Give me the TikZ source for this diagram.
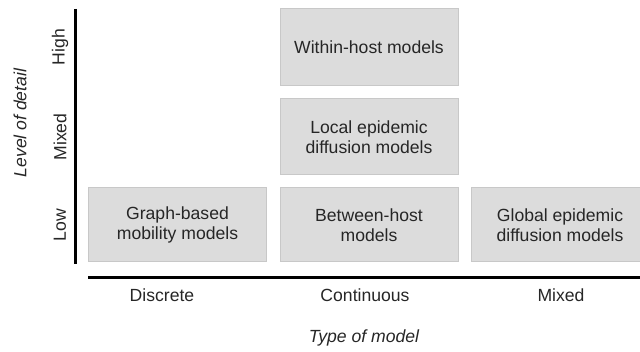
\documentclass[tikz,border=0pt]{standalone}
\usepackage{fontspec}
\setmainfont{Liberation Sans}
\begin{document}
\begin{tikzpicture}[x=1pt,y=-1pt,
  modelbox/.style={draw={rgb,255:red,200;green,200;blue,200}, fill={rgb,255:red,220;green,220;blue,220}, line width=1pt,
    minimum width=178pt, inner sep=0pt, align=center, font=\fontsize{17.6}{20.5}\selectfont, text=black!85},
  lbl/.style={font=\fontsize{17.6}{20.5}\selectfont, text=black!85, inner sep=0pt},
  ax/.style={line width=3pt, black}]
\useasboundingbox (0,0) rectangle (640,352);
\node[modelbox, minimum height=77pt] (within) at (369,47.5) {Within-host models};
\node[modelbox, minimum height=76pt] (local) at (369,137) {Local epidemic\\diffusion models};
\node[modelbox, minimum height=74pt] (graph) at (177.5,225) {Graph-based\\mobility models};
\node[modelbox, minimum height=74pt] (between) at (369,225) {Between-host\\models};
\node[modelbox, minimum height=74pt] (global) at (560,225) {Global epidemic\\diffusion models};
\coordinate (vt) at (75,9);
\coordinate (vb) at (75,264);
\coordinate (hl) at (88,278);
\coordinate (hr) at (641,278);
\draw[ax] (vt) -- (vb);
\draw[ax] (hl) -- (hr);
\node[lbl, rotate=90] (high) at (60,47) {High};
\node[lbl, rotate=90] (mixedy) at (60,137) {Mixed};
\node[lbl, rotate=90] (low) at (60,225) {Low};
\node[lbl, rotate=90, font=\fontsize{17.6}{20.5}\selectfont\itshape] (lod) at (20,123) {Level of detail};
\node[lbl] (disc) at (162,295) {Discrete};
\node[lbl] (cont) at (365,295) {Continuous};
\node[lbl] (mixedx) at (561,295) {Mixed};
\node[lbl, font=\fontsize{17.6}{20.5}\selectfont\itshape] (tom) at (364,338) {Type of model};
\end{tikzpicture}
\end{document}
